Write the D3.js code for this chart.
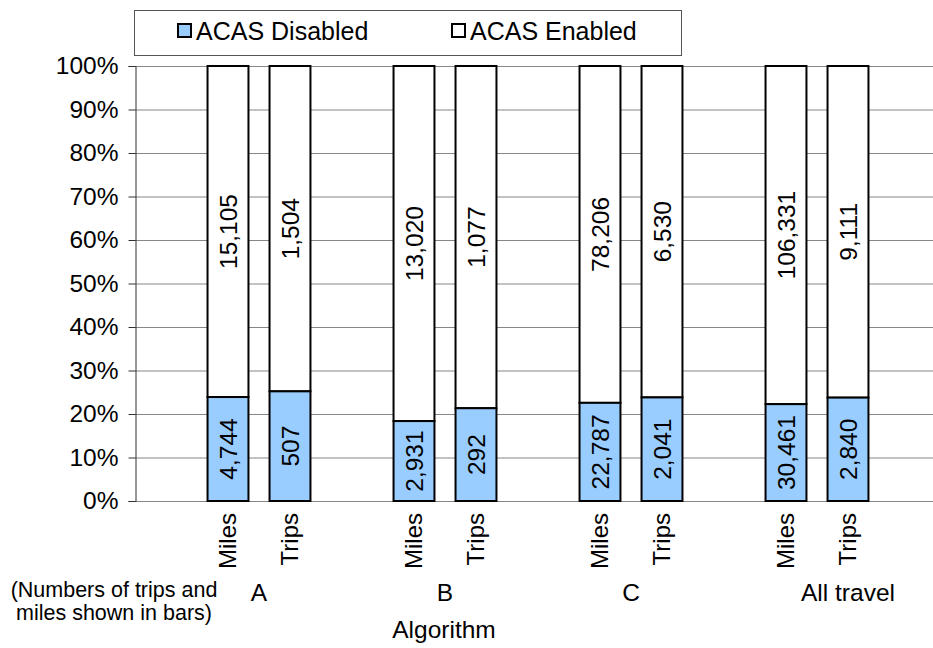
<!DOCTYPE html>
<html>
<head>
<meta charset="utf-8">
<script src="https://cdn.jsdelivr.net/npm/d3@7"></script>
<style>
  html, body { margin: 0; padding: 0; background: #fff; }
  svg { display: block; font-family: "Liberation Sans", Arial, sans-serif; }
</style>
</head>
<body>
<svg id="chart" width="933" height="648"></svg>
<script>
// ---- data ----
const groups = ["A", "B", "C", "All travel"];
const measures = ["Miles", "Trips"];
const disabledMiles = [4744, 2931, 22787, 30461];
const enabledMiles  = [15105, 13020, 78206, 106331];
const disabledTrips = [507, 292, 2041, 2840];
const enabledTrips  = [1504, 1077, 6530, 9111];
const yTicks = [0, 10, 20, 30, 40, 50, 60, 70, 80, 90, 100];
const seriesNames = ["ACAS Disabled", "ACAS Enabled"];
const seriesColors = ["#99CCFF", "#FFFFFF"];
// category slots of the original chart (blank slots separate the groups;
// the last group owns one trailing blank slot)
const slots = ["", "A|Miles", "A|Trips", "", "B|Miles", "B|Trips", "", "C|Miles", "C|Trips",
               "", "All travel|Miles", "All travel|Trips", "All travel|"];

// build rows
const rows = [];
groups.forEach((g, i) => {
  rows.push({group: g, measure: "Miles", disabled: disabledMiles[i], enabled: enabledMiles[i]});
  rows.push({group: g, measure: "Trips", disabled: disabledTrips[i], enabled: enabledTrips[i]});
});
rows.forEach(r => { r.total = r.disabled + r.enabled; r.pDis = 100 * r.disabled / r.total; });

const svg = d3.select("#chart");
const pLeft = 135, pRight = 941, pTop = 66, pBottom = 501;

const x = d3.scaleBand().domain(slots.map((s, i) => i)).range([pLeft, pRight])
  .paddingInner(0.34).paddingOuter(0.17);
const step = x.step();
const slotOf = (g, m) => slots.indexOf(g + "|" + m);
const y = d3.scaleLinear().domain([0, 100]).range([pBottom, pTop]);
const fmt = d3.format(",");

// gridlines
svg.append("g").selectAll("line").data(yTicks).join("line")
  .attr("x1", pLeft).attr("x2", 933)
  .attr("y1", d => y(d) + 0.5).attr("y2", d => y(d) + 0.5)
  .attr("stroke", "#868686").attr("stroke-width", 1);

// y axis
const yAxis = d3.axisLeft(y).tickValues(yTicks).tickFormat(d => d + "%").tickSize(7).tickPadding(10);
const ga = svg.append("g").attr("transform", `translate(${pLeft + 0.5},0)`).call(yAxis);
ga.select(".domain").attr("stroke", "#333");
ga.selectAll(".tick line").attr("stroke", "#333");
ga.selectAll(".tick text").attr("font-size", 24.5).attr("fill", "#000")
  .attr("font-family", "Liberation Sans, Arial, sans-serif");

// bars
const bx = r => x(slotOf(r.group, r.measure));
const bw = x.bandwidth();
const barG = svg.append("g");
barG.selectAll("rect.en").data(rows).join("rect").attr("class", "en")
  .attr("x", bx).attr("width", bw)
  .attr("y", y(100)).attr("height", r => y(r.pDis) - y(100))
  .attr("fill", seriesColors[1]).attr("stroke", "#000").attr("stroke-width", 2);
barG.selectAll("rect.dis").data(rows).join("rect").attr("class", "dis")
  .attr("x", bx).attr("width", bw)
  .attr("y", r => y(r.pDis)).attr("height", r => y(0) - y(r.pDis))
  .attr("fill", seriesColors[0]).attr("stroke", "#000").attr("stroke-width", 2);

// value labels
const lab = svg.append("g").attr("font-size", 24.5).attr("fill", "#000");
lab.selectAll("text.ven").data(rows).join("text").attr("class", "ven")
  .attr("transform", r => `translate(${bx(r) + bw / 2},${(y(100) + y(r.pDis)) / 2}) rotate(-90)`)
  .attr("text-anchor", "middle").attr("dy", "0.35em").text(r => fmt(r.enabled));
lab.selectAll("text.vdis").data(rows).join("text").attr("class", "vdis")
  .attr("transform", r => `translate(${bx(r) + bw / 2},${(y(0) + y(r.pDis)) / 2}) rotate(-90)`)
  .attr("text-anchor", "middle").attr("dy", "0.35em").text(r => fmt(r.disabled));

// category labels
lab.selectAll("text.cat").data(rows).join("text").attr("class", "cat")
  .attr("font-size", 24)
  .attr("transform", r => `translate(${bx(r) + bw / 2},${pBottom + 12}) rotate(-90)`)
  .attr("text-anchor", "end").attr("dy", "0.35em").text(r => r.measure);

// group labels: centred over the slots the group owns
const groupCenter = g => d3.mean(slots.map((s, i) => [s, i]).filter(([s]) => s.split("|")[0] === g),
  ([s, i]) => x(i) + bw / 2);
lab.selectAll("text.grp").data(groups).join("text").attr("class", "grp")
  .attr("font-size", 24.5)
  .attr("x", groupCenter).attr("y", 601).attr("text-anchor", "middle").text(g => g);

// axis title
svg.append("text").attr("x", 444).attr("y", 638).attr("text-anchor", "middle")
  .attr("font-size", 24.5).text("Algorithm");

// footnote
const fn = svg.append("text").attr("font-size", 21.5).attr("text-anchor", "middle");
fn.append("tspan").attr("x", 114).attr("y", 597).text("(Numbers of trips and");
fn.append("tspan").attr("x", 114).attr("y", 620).text("miles shown in bars)");

// legend
const lg = svg.append("g");
lg.append("rect").attr("x", 134.5).attr("y", 10.5).attr("width", 547).attr("height", 45)
  .attr("fill", "#fff").attr("stroke", "#555").attr("stroke-width", 1);
const lx = [178, 452];
seriesNames.forEach((n, i) => {
  lg.append("rect").attr("x", lx[i]).attr("y", 24).attr("width", 13).attr("height", 13)
    .attr("fill", seriesColors[i]).attr("stroke", "#000").attr("stroke-width", 2);
  lg.append("text").attr("x", lx[i] + 18).attr("y", 40).attr("font-size", 25).text(n);
});
</script>
</body>
</html>
